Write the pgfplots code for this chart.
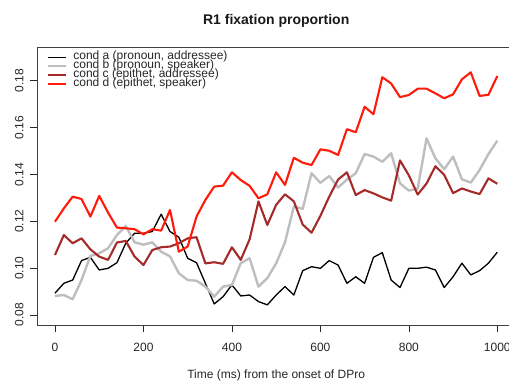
\documentclass[border=0pt]{standalone}
\usepackage{pgfplots}
\pgfplotsset{compat=1.18}
\usepackage{pgfplotstable}
\usepackage{fontspec}
\setmainfont{Liberation Sans}
\definecolor{rgray}{HTML}{BEBEBE}
\definecolor{rbrown}{HTML}{A52A2A}
\definecolor{rred}{HTML}{FF1A0A}
\pgfplotstableread{
t a b c d
0 0.0893 0.0881 0.1056 0.1198
20 0.0935 0.0885 0.1141 0.1255
40 0.0949 0.0867 0.1106 0.1305
60 0.1032 0.0949 0.1127 0.1295
80 0.1046 0.1052 0.1080 0.1220
100 0.0992 0.1063 0.1049 0.1308
120 0.0999 0.1085 0.1035 0.1237
140 0.1023 0.1141 0.1109 0.1173
160 0.1106 0.1180 0.1116 0.1170
180 0.1149 0.1110 0.1049 0.1166
200 0.1149 0.1100 0.1013 0.1144
220 0.1156 0.1110 0.1077 0.1166
240 0.1230 0.1070 0.1089 0.1160
260 0.1156 0.1050 0.1092 0.1248
280 0.1132 0.0978 0.1106 0.1070
300 0.1042 0.0949 0.1127 0.1092
320 0.1023 0.0946 0.1132 0.1220
340 0.0935 0.0921 0.1020 0.1291
360 0.0847 0.0878 0.1025 0.1348
380 0.0878 0.0921 0.1018 0.1352
400 0.0928 0.0928 0.1089 0.1409
420 0.0881 0.1021 0.1035 0.1376
440 0.0885 0.1042 0.1123 0.1351
460 0.0857 0.0921 0.1285 0.1298
480 0.0843 0.0957 0.1184 0.1315
500 0.0885 0.1020 0.1270 0.1409
520 0.0921 0.1110 0.1315 0.1355
540 0.0885 0.1263 0.1285 0.1471
560 0.0989 0.1253 0.1186 0.1450
580 0.1006 0.1405 0.1151 0.1440
600 0.0999 0.1364 0.1223 0.1507
620 0.1032 0.1393 0.1305 0.1501
640 0.1013 0.1344 0.1378 0.1483
660 0.0935 0.1378 0.1409 0.1593
680 0.0963 0.1405 0.1312 0.1580
700 0.0935 0.1487 0.1333 0.1689
720 0.1046 0.1476 0.1319 0.1657
740 0.1066 0.1454 0.1302 0.1815
760 0.0949 0.1490 0.1288 0.1788
780 0.0917 0.1362 0.1460 0.1730
800 0.0999 0.1331 0.1396 0.1739
820 0.0999 0.1339 0.1314 0.1766
840 0.1004 0.1554 0.1361 0.1766
860 0.0992 0.1469 0.1435 0.1746
880 0.0917 0.1422 0.1398 0.1725
900 0.0963 0.1476 0.1320 0.1742
920 0.1021 0.1379 0.1340 0.1806
940 0.0971 0.1365 0.1327 0.1836
960 0.0989 0.1419 0.1316 0.1735
980 0.1021 0.1487 0.1383 0.1740
1000 0.1068 0.1544 0.1360 0.1820
}\datatable
\begin{document}
\begin{tikzpicture}
\begin{axis}[
  at={(37.3pt,56pt)}, anchor=south west,
  scale only axis, width=477.7pt, height=278pt,
  xmin=-40, xmax=1040, ymin=0.0757, ymax=0.1944,
  xtick={0,200,400,600,800,1000},
  xticklabels={0,200,400,600,800,1000},
  ytick={0.08,0.10,0.12,0.14,0.16,0.18},
  yticklabels={0.08,0.10,0.12,0.14,0.16,0.18},
  /pgf/number format/assume math mode=true,
  /pgf/number format/1000 sep={},
  tick align=outside, tick pos=left,
  major tick length=7pt,
  every tick/.style={black!85, line width=0.5pt},
  axis line style={black!75, line width=0.5pt},
  tick label style={font=\fontsize{12}{14}\selectfont, text=black!85},
  xticklabel style={anchor=base, yshift=-19pt},
  yticklabel style={xshift=-7pt, rotate=90, anchor=base},
  xlabel={Time (ms) from the onset of DPro},
  xlabel style={font=\fontsize{12}{14}\selectfont, text=black!85, at={(axis description cs:0.5,0)}, anchor=base, yshift=-53pt},
  legend style={draw=none, fill=none, at={(axis description cs:0,1)}, anchor=north west,
    xshift=6.5pt, yshift=-3.5pt, font=\fontsize{12}{14}\selectfont, text=black!85,
    nodes={inner sep=0pt, text height=7pt, text depth=2pt}, row sep=0pt, column sep=6pt},
  legend cell align=left,
  legend image code/.code={\draw[#1] (0pt,0pt) -- (18pt,0pt);},
  clip=false,
]
\addplot[black, line width=1.3pt, line join=round] table[x=t, y=a] {\datatable};
\addlegendentry{cond a (pronoun, addressee)}
\addplot[rgray, line width=2.4pt, line join=round] table[x=t, y=b] {\datatable};
\addlegendentry{cond b (pronoun, speaker)}
\addplot[rbrown, line width=2.1pt, line join=round] table[x=t, y=c] {\datatable};
\addlegendentry{cond c (epithet, addressee)}
\addplot[rred, line width=2.1pt, line join=round] table[x=t, y=d] {\datatable};
\addlegendentry{cond d (epithet, speaker)}
\end{axis}
\node[anchor=base, font=\bfseries\fontsize{14}{16}\selectfont, text=black!90] at (276.2pt,356pt) {R1 fixation proportion};
\pgfresetboundingbox
\useasboundingbox (0,0) rectangle (509pt,381pt);
\end{tikzpicture}
\end{document}
